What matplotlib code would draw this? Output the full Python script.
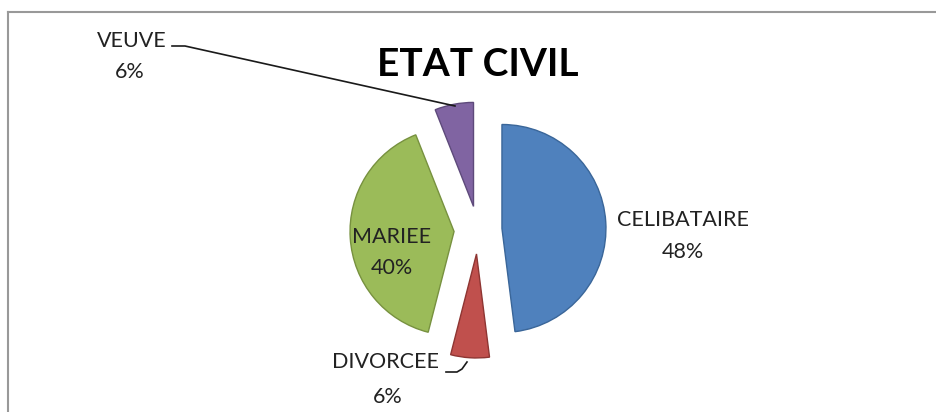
import matplotlib.pyplot as plt
from matplotlib.lines import Line2D

# Etat civil data
categories = ['CELIBATAIRE', 'DIVORCEE', 'MARIEE', 'VEUVE']
values = [48, 6, 40, 6]
colors = ['#4F81BD', '#C0504D', '#9BBB59', '#8064A2']
edge_colors = ['#3A6699', '#8E3532', '#77913F', '#5E4A7B']

plt.rcParams['font.family'] = ['Lato', 'DejaVu Sans']

W, H = 936, 412
fig = plt.figure(figsize=(W / 100, H / 100), dpi=100)
ax = fig.add_axes([0, 0, 1, 1])

# explode is in data units here (pixels), every slice pulled out the same
wedges, _ = ax.pie(values, colors=colors, startangle=90, counterclock=False,
                   explode=[24] * len(values), center=(478, H - 230), radius=104,
                   wedgeprops=dict(linewidth=1.0))
for w, ec in zip(wedges, edge_colors):
    w.set_edgecolor(ec)

ax.set_xlim(0, W)
ax.set_ylim(0, H)
ax.set_aspect('equal')
ax.axis('off')

total = sum(values)
pct = [f"{v / total * 100:.0f}%" for v in values]
txt = dict(fontsize=15.5, color='#222222', ha='center', va='center')

# labels (name on one line, percent below)
ax.text(683, H - 220, categories[0], **txt)
ax.text(683, H - 252, pct[0], **txt)
ax.text(385, H - 362, categories[1], **txt)
ax.text(388, H - 397, pct[1], **txt)
ax.text(392, H - 237, categories[2], **txt)
ax.text(392, H - 268, pct[2], **txt)
ax.text(132, H - 41, categories[3], **txt)
ax.text(130, H - 72, pct[3], **txt)

# leader lines
ax.plot([172, 185, 455], [H - 46, H - 46, H - 106], color='#1a1a1a', lw=1.2)
ax.plot([446, 457, 462, 467], [H - 372, H - 372, H - 369, H - 362], color='#1a1a1a', lw=1.2)

ax.text(478, H - 64, 'ETAT CIVIL', fontsize=28, fontweight='bold', color='black',
        ha='center', va='center')

# chart frame (left and top edges visible)
fig.add_artist(Line2D([8 / W, 8 / W], [0, 1 - 12 / H], color='#999999', lw=1.5))
fig.add_artist(Line2D([8 / W, 1], [1 - 12 / H, 1 - 12 / H], color='#999999', lw=1.5))

fig.savefig('out.png', dpi=100, facecolor='white')
